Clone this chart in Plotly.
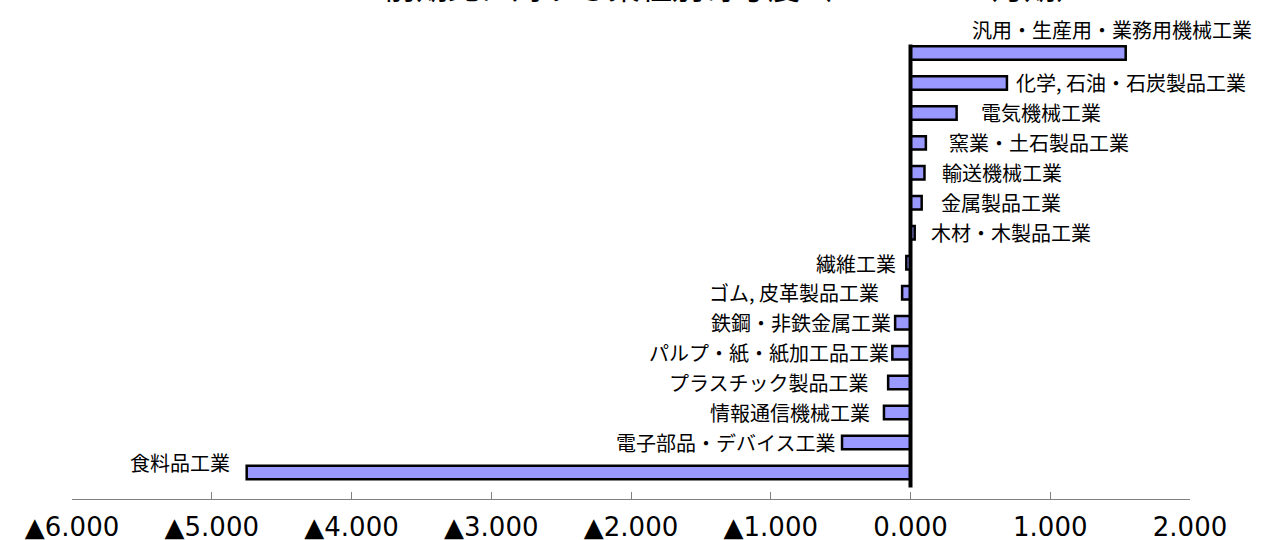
import plotly.graph_objects as go

# ---- data ----
categories = [
    "汎用・生産用・業務用機械工業",
    "化学, 石油・石炭製品工業",
    "電気機械工業",
    "窯業・土石製品工業",
    "輸送機械工業",
    "金属製品工業",
    "木材・木製品工業",
    "繊維工業",
    "ゴム, 皮革製品工業",
    "鉄鋼・非鉄金属工業",
    "パルプ・紙・紙加工品工業",
    "プラスチック製品工業",
    "情報通信機械工業",
    "電子部品・デバイス工業",
    "食料品工業",
]
values = [1.54, 0.69, 0.33, 0.11, 0.10, 0.08, 0.03, -0.03, -0.06, -0.11,
          -0.13, -0.16, -0.19, -0.49, -4.75]
tick_vals = [-6, -5, -4, -3, -2, -1, 0, 1, 2]
tick_text = ["▲6.000", "▲5.000", "▲4.000", "▲3.000", "▲2.000", "▲1.000",
             "0.000", "1.000", "2.000"]
title_text = "前期比に対する業種別寄与度（１０－１２月期）"

# label offsets (pixels) - styling only
label_dx = [-14, 7, 22, 21, 16, 17, 14, -8, -21, -2, -1, -17, -12, -5, -15]
label_dy = [23, 0, 0, 0, 0, 0, 0, -1, 0, 0, 0, 0, 0, 0, 10]

JP = "Noto Sans CJK JP"

fig = go.Figure()
fig.add_trace(go.Bar(
    x=values, y=categories, orientation="h",
    width=0.45,
    marker=dict(color="#9999FF", line=dict(color="black", width=2.5)),
    hoverinfo="x+y",
))

annotations = []
for i, (c, v) in enumerate(zip(categories, values)):
    if i == 0:
        anchor = "center"
    else:
        anchor = "left" if v >= 0 else "right"
    annotations.append(dict(
        x=v, y=c, xref="x", yref="y", text=c, showarrow=False,
        xanchor=anchor, yanchor="middle", xshift=label_dx[i], yshift=label_dy[i],
        font=dict(family=JP, size=20, color="black"),
    ))

annotations.append(dict(
    x=749 / 1261, xref="paper", y=1, yref="paper", text=title_text,
    showarrow=False, xanchor="center", yanchor="bottom", yshift=28,
    font=dict(family=JP, size=32, color="black"),
))

fig.update_layout(
    width=1261, height=540,
    margin=dict(l=72, r=71, t=38, b=41, autoexpand=False),
    paper_bgcolor="white", plot_bgcolor="white",
    showlegend=False,
    annotations=annotations,
    shapes=[dict(type="line", xref="x", yref="y", x0=0, x1=0, y0=-0.28, y1=14.5,
                 line=dict(color="black", width=4))],
    xaxis=dict(
        range=[-6, 2], tickvals=tick_vals, ticktext=tick_text,
        showgrid=False, zeroline=False, automargin=False,
        showline=True, linecolor="#808080", linewidth=1,
        ticks="inside", ticklen=7, tickcolor="#808080", tickwidth=1,
        tickfont=dict(family="DejaVu Sans", size=26, color="black"),
        ticklabelstandoff=5,
    ),
    yaxis=dict(
        autorange="reversed", showticklabels=False, showgrid=False,
        zeroline=False, showline=False, ticks="", automargin=False,
    ),
)

fig.write_html(
    "out.html",
    config={"displayModeBar": False},
    post_script="document.body.style.margin='0';document.body.style.overflow='hidden';",
)
